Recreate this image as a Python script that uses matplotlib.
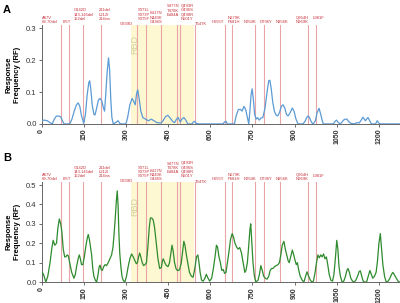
import matplotlib.pyplot as plt

plt.rcParams['font.family'] = ['Liberation Sans', 'DejaVu Sans']

# panel A (blue) response frequency along the spike residues
res_a = [0, 10, 20, 30, 38, 45, 52, 60, 68, 74, 80, 100, 108, 116, 124, 130, 136, 142, 150, 156,
         162, 168, 171, 175, 180, 186, 190, 196, 202, 208, 214, 220, 224, 228, 233, 238, 242, 246,
         250, 255, 265, 272, 280, 300, 306, 314, 322, 328, 333, 338, 342, 347, 353, 360, 370, 380,
         390, 400, 410, 425, 432, 440, 449, 458, 466, 473, 480, 486, 493, 500, 506, 513, 520, 535,
         540, 545, 550, 560, 645, 651, 656, 661, 686, 692, 700, 707, 713, 720, 726, 732, 737, 741,
         745, 749, 753, 758, 763, 768, 774, 780, 787, 795, 802, 808, 812, 817, 822, 828, 834, 840,
         846, 853, 859, 865, 871, 877, 884, 892, 898, 905, 912, 930, 937, 943, 948, 953, 960, 966,
         974, 980, 987, 993, 1000, 1003, 1038, 1044, 1049, 1055, 1062, 1068, 1074, 1080, 1086,
         1092, 1100, 1112, 1122, 1130, 1137, 1143, 1148, 1152, 1157, 1161, 1166, 1173, 1188, 1194,
         1199, 1205, 1273]
rf_a = [0.01, 0.012, 0.01, 0.004, 0.0, 0.015, 0.024, 0.025, 0.022, 0.01, 0.0, 0.0, 0.015, 0.04,
        0.06, 0.066, 0.055, 0.025, 0.002, 0.03, 0.09, 0.13, 0.135, 0.11, 0.06, 0.03, 0.028, 0.05,
        0.075, 0.08, 0.072, 0.05, 0.04, 0.09, 0.16, 0.207, 0.17, 0.08, 0.02, 0.0, 0.005, 0.01, 0.0,
        0.0, 0.02, 0.06, 0.08, 0.07, 0.06, 0.095, 0.107, 0.08, 0.04, 0.02, 0.015, 0.01, 0.015, 0.01,
        0.004, 0.003, 0.01, 0.022, 0.027, 0.018, 0.008, 0.004, 0.015, 0.02, 0.006, 0.016, 0.02,
        0.012, 0.0, 0.0, 0.006, 0.008, 0.002, 0.0, 0.0, 0.006, 0.008, 0.0, 0.0, 0.025, 0.045, 0.046,
        0.04, 0.055, 0.045, 0.02, 0.0, 0.04, 0.09, 0.11, 0.08, 0.03, 0.015, 0.02, 0.012, 0.018, 0.02,
        0.05, 0.1, 0.135, 0.137, 0.11, 0.07, 0.04, 0.028, 0.025, 0.035, 0.055, 0.06, 0.05, 0.03,
        0.025, 0.035, 0.05, 0.04, 0.015, 0.0, 0.0, 0.008, 0.02, 0.025, 0.02, 0.005, 0.0, 0.01, 0.035,
        0.049, 0.03, 0.005, 0.0, 0.0, 0.008, 0.012, 0.005, 0.0, 0.005, 0.012, 0.015, 0.015, 0.008,
        0.002, 0.0, 0.004, 0.003, 0.012, 0.021, 0.015, 0.01, 0.016, 0.02, 0.012, 0.0, 0.0, 0.01,
        0.003, 0.0, 0.0]

# panel B (green)
res_b = [0, 5, 9, 15, 22, 30, 36, 41, 47, 53, 58, 63, 68, 72, 77, 82, 86, 91, 95, 100, 107, 115,
         120, 125, 130, 134, 138, 142, 147, 152, 158, 163, 166, 170, 174, 178, 182, 186, 191, 196,
         201, 205, 208, 212, 216, 221, 226, 231, 237, 243, 249, 254, 258, 262, 266, 269, 272, 275,
         278, 282, 286, 290, 296, 302, 308, 314, 320, 326, 332, 337, 341, 345, 349, 353, 358, 363,
         368, 373, 378, 383, 387, 392, 397, 402, 408, 414, 420, 426, 430, 433, 438, 444, 450, 455,
         459, 464, 468, 473, 478, 483, 488, 492, 497, 501, 506, 510, 515, 520, 526, 533, 539, 545,
         551, 556, 560, 564, 569, 575, 581, 586, 592, 598, 605, 611, 617, 622, 626, 631, 636, 641,
         646, 651, 656, 661, 666, 672, 678, 683, 688, 694, 699, 705, 711, 717, 723, 727, 732, 737,
         741, 744, 748, 752, 757, 762, 770, 775, 780, 785, 790, 796, 802, 808, 813, 818, 823, 829,
         835, 841, 846, 851, 856, 862, 867, 872, 877, 881, 886, 892, 897, 902, 906, 910, 915, 920,
         927, 933, 939, 944, 950, 956, 962, 967, 973, 978, 983, 988, 993, 998, 1003, 1008, 1013,
         1018, 1023, 1029, 1035, 1040, 1045, 1050, 1054, 1058, 1063, 1069, 1075, 1081, 1086, 1090,
         1095, 1100, 1106, 1112, 1118, 1124, 1130, 1134, 1139, 1144, 1150, 1156, 1162, 1168, 1173,
         1178, 1184, 1190, 1195, 1200, 1205, 1209, 1214, 1220, 1226, 1233, 1239, 1245, 1250, 1256,
         1262, 1268, 1273]
rf_b = [0.05, 0.045, 0.03, 0.0, 0.03, 0.1, 0.17, 0.215, 0.19, 0.2, 0.28, 0.325, 0.3, 0.26, 0.17,
        0.13, 0.13, 0.14, 0.135, 0.1, 0.05, 0.02, 0.04, 0.085, 0.12, 0.14, 0.12, 0.09, 0.09, 0.13,
        0.19, 0.23, 0.245, 0.22, 0.18, 0.14, 0.07, 0.03, 0.01, 0.0, 0.04, 0.08, 0.087, 0.065, 0.06,
        0.08, 0.09, 0.085, 0.1, 0.12, 0.14, 0.18, 0.25, 0.33, 0.42, 0.47, 0.4, 0.25, 0.15, 0.08,
        0.03, 0.01, 0.0, 0.03, 0.08, 0.12, 0.145, 0.13, 0.11, 0.095, 0.1, 0.13, 0.15, 0.13, 0.1,
        0.085, 0.09, 0.1, 0.18, 0.28, 0.33, 0.33, 0.32, 0.28, 0.2, 0.12, 0.07, 0.075, 0.11, 0.12,
        0.1, 0.085, 0.08, 0.1, 0.14, 0.19, 0.16, 0.1, 0.07, 0.06, 0.06, 0.07, 0.1, 0.15, 0.21, 0.19,
        0.14, 0.1, 0.05, 0.03, 0.025, 0.07, 0.13, 0.14, 0.1, 0.05, 0.01, 0.005, 0.02, 0.04, 0.02,
        0.005, 0.02, 0.07, 0.13, 0.19, 0.18, 0.13, 0.1, 0.06, 0.065, 0.045, 0.05, 0.1, 0.15, 0.22,
        0.25, 0.23, 0.2, 0.18, 0.17, 0.178, 0.15, 0.1, 0.05, 0.06, 0.1, 0.19, 0.27, 0.3, 0.2, 0.1,
        0.03, 0.0, 0.01, 0.04, 0.085, 0.06, 0.03, 0.02, 0.015, 0.03, 0.06, 0.07, 0.07, 0.08, 0.085,
        0.09, 0.1, 0.14, 0.19, 0.21, 0.17, 0.14, 0.11, 0.1, 0.13, 0.165, 0.14, 0.11, 0.09, 0.1,
        0.06, 0.03, 0.01, 0.0, 0.03, 0.053, 0.03, 0.01, 0.0, 0.005, 0.05, 0.1, 0.14, 0.125, 0.14,
        0.13, 0.145, 0.12, 0.13, 0.09, 0.04, 0.01, 0.005, 0.04, 0.12, 0.215, 0.17, 0.08, 0.03, 0.0,
        0.005, 0.03, 0.06, 0.07, 0.05, 0.02, 0.005, 0.0, 0.01, 0.03, 0.055, 0.058, 0.03, 0.005, 0.0,
        0.0, 0.03, 0.06, 0.04, 0.02, 0.03, 0.05, 0.11, 0.2, 0.25, 0.18, 0.09, 0.03, 0.0, 0.005, 0.02,
        0.04, 0.05, 0.035, 0.02, 0.005, 0.0]

# mutation sites (red lines) and their labels
mut_pos = [68, 97, 146, 213, 341, 373, 424, 480, 493, 545, 653, 676, 759, 792, 849, 947, 975]
mut_labels = ["A67V\n69-70del", "I95T", "G142D\n143-145del\n152del", "211del\nL212I\n214ins",
              "G339D", "S371L\nS373P\nS375F", "K417N\nN440K\nG446S", "S477N\nT478K\nE484A",
              "Q493R\nG496S\nQ498R\nN501Y", "T547K", "H655Y", "N679K\nP681H", "N764K", "D796Y",
              "N856K", "Q954H\nN969K", "L981F"]
label_x = [1, 76, 115, 204, 278, 342, 385, 445, 495, 545, 605, 662, 719, 776, 833, 904, 964]
label_dy = [1, 1, 4, 4, -1, 4, 1, 8, 4, -1.5, 1, 1, 1, 1, 1, 1, 4.5]

rbd = (319, 541)
xticks = [0, 150, 300, 450, 600, 750, 900, 1050, 1200]

fig = plt.figure(figsize=(4, 3.03), dpi=100)
axA = fig.add_axes([0.104, 0.591, 0.896, 0.3265])
axB = fig.add_axes([0.104, 0.069, 0.896, 0.330])

panels = [(axA, res_a, rf_a, '#5b9bd5', 0.31, [0, 0.1, 0.2, 0.3], 0.25),
          (axB, res_b, rf_b, '#2e8b2e', 0.515, [0, 0.1, 0.2, 0.3, 0.4, 0.5], 0.39)]

for ax, x, y, col, ytop, yt, rbd_y in panels:
    ax.axvspan(rbd[0], rbd[1], color='#fdf8d2', zorder=0, lw=0)
    for p in mut_pos:
        ax.axvline(p, color='#eaa4a8', lw=0.8, zorder=1)
    ax.plot(x, y, color=col, lw=0.9, zorder=3)
    ax.text(332, rbd_y, 'RBD', rotation=90, color='#d4d09a', fontsize=6.5,
            ha='center', va='center', zorder=2)
    ax.set_xlim(0, 1275)
    ax.set_ylim(0, ytop)
    ax.set_xticks(xticks)
    ax.set_xticklabels([str(t) for t in xticks], rotation=90, fontsize=5, fontweight='bold',
                       color='#333333')
    ax.set_yticks(yt)
    ax.set_yticklabels(['%.1f' % v for v in yt], fontsize=5.5, color='#333333')
    ax.tick_params(length=2, width=0.6, pad=1.5, colors='#555555', labelcolor='#333333')
    for s in ['top', 'right']:
        ax.spines[s].set_visible(False)
    for s in ['left', 'bottom']:
        ax.spines[s].set_color('#666666')
        ax.spines[s].set_linewidth(0.7)
    ax.set_ylabel('Response\nFrequency (RF)', fontsize=5.5, fontweight='bold', labelpad=4,
                  linespacing=1.2)
    for lx, dy, txt in zip(label_x, label_dy, mut_labels):
        ax.annotate(txt, xy=(lx, 1), xycoords=('data', 'axes fraction'),
                    xytext=(0, dy * 0.72), textcoords='offset points',
                    ha='left', va='bottom', fontsize=3.0, color='#c8323c',
                    linespacing=1.1, annotation_clip=False)

fig.text(0.008, 0.985, 'A', fontsize=8, fontweight='bold', va='top')
fig.text(0.008, 0.495, 'B', fontsize=8, fontweight='bold', va='top')

fig.savefig('out.png', dpi=100)
